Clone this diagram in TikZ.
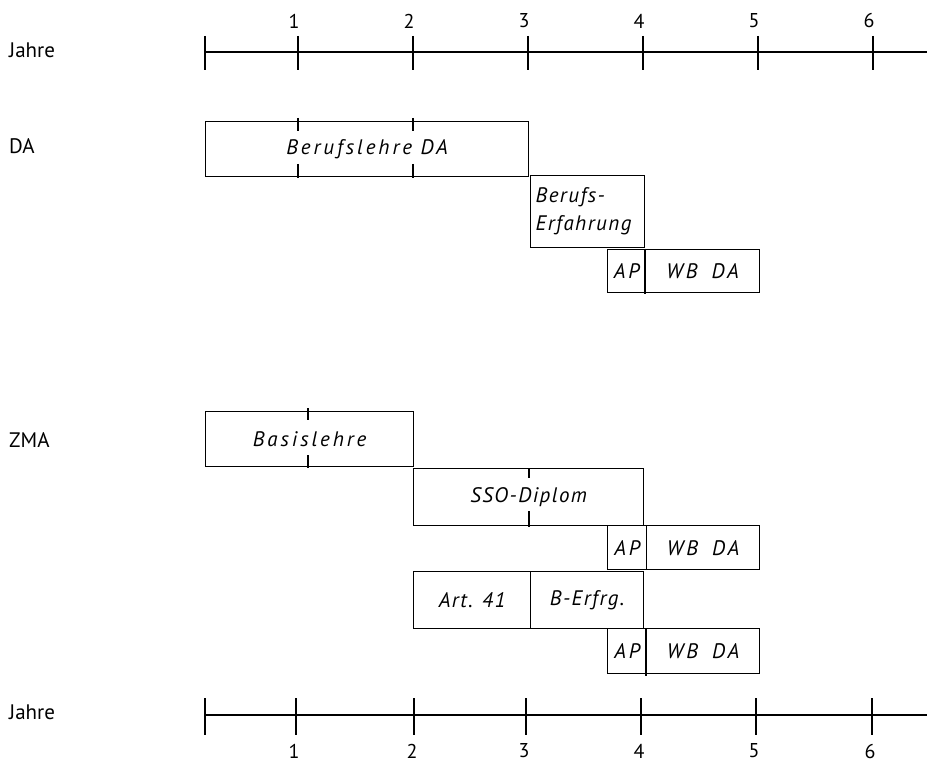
\documentclass[tikz,border=0pt]{standalone}
\usepackage{fontspec}
\setmainfont{PT Sans}
\newfontfamily\spfont[LetterSpace=14]{PT Sans}
\newfontfamily\tfont[LetterSpace=7]{PT Sans}
\begin{document}
\begin{tikzpicture}[x=1pt,y=-1pt,
  ln/.style={line width=1.3pt},
  lbl/.style={anchor=west, inner sep=0pt, font=\fontsize{21}{24}\selectfont},
  num/.style={inner sep=0pt, font=\fontsize{20}{22}\selectfont},
  box/.style={draw, line width=1.3pt, inner sep=0pt, anchor=north west,
    font=\fontsize{21}{24}\selectfont\spfont\itshape},
  tbox/.style={box, font=\fontsize{21}{24}\selectfont\tfont\itshape}]
\useasboundingbox (0,0) rectangle (927,762);
% row labels
\node[lbl] (j1) at (9,50) {Jahre};
\node[lbl] (da) at (9,146) {DA};
\node[lbl] (zma) at (9,440) {ZMA};
\node[lbl] (j2) at (9,712) {Jahre};
% top axis
\draw[ln] (205,52) -- (927,52);
\draw[ln] (205,36) -- (205,70);
\foreach \i/\x in {1/298,2/413,3/528,4/643,5/758,6/873}{
  \draw[ln] (\x,36) -- (\x,70);
  \node[num] (t\i) at (\x-4,21) {\i};
}
% bottom axis
\draw[ln] (205,715) -- (927,715);
\draw[ln] (205,698) -- (205,735);
\foreach \i/\x in {1/296,2/414,3/526,4/641,5/756,6/872}{
  \draw[ln] (\x,698) -- (\x,735);
  \node[num] (b\i) at (\x-2,751) {\i};
}
% DA
\node[box, minimum width=323pt, minimum height=55pt] (bl) at (205,121) {Berufslehre DA};
\foreach \x in {298,413}{
  \draw[ln] (\x,118) -- (\x,131);
  \draw[ln] (\x,164) -- (\x,178);
}
\node[tbox, font=\fontsize{21}{28}\selectfont\tfont\itshape, minimum width=114pt, minimum height=72pt,
  align=left, text width=104pt] (be) at (530,175) {Berufs-\\Erfahrung};
\node[box, minimum width=38pt, minimum height=43pt] (ap1) at (607,249) {AP};
\node[box, minimum width=114pt, minimum height=43pt] (wb1) at (645,249) {WB\hspace{14pt}DA};
\draw[ln] (wb1.north west) -- ++(0,45);
% ZMA
\node[box, minimum width=208pt, minimum height=55pt] (bas) at (205,411) {Basislehre};
\draw[ln] (308,408) -- (308,420);
\draw[ln] (308,455) -- (308,468);
\node[tbox, minimum width=230pt, minimum height=57pt] (sso) at (413,468) {SSO-Diplom};
\draw[ln] (529,468) -- (529,478);
\draw[ln] (529,511) -- (529,527);
\node[box, minimum width=39pt, minimum height=44pt] (ap2) at (607,525) {AP};
\node[box, minimum width=113pt, minimum height=44pt] (wb2) at (646,525) {WB\hspace{14pt}DA};
\node[tbox, minimum width=117pt, minimum height=57pt] (art) at (413,571) {Art. 41};
\node[tbox, minimum width=113pt, minimum height=57pt] (ber) at (530,571) {B-Erfrg.};
\node[box, minimum width=39pt, minimum height=45pt] (ap3) at (607,628) {AP};
\node[box, minimum width=113pt, minimum height=45pt] (wb3) at (646,628) {WB\hspace{14pt}DA};
\draw[ln] (wb3.north west) -- ++(0,48);
\end{tikzpicture}
\end{document}
